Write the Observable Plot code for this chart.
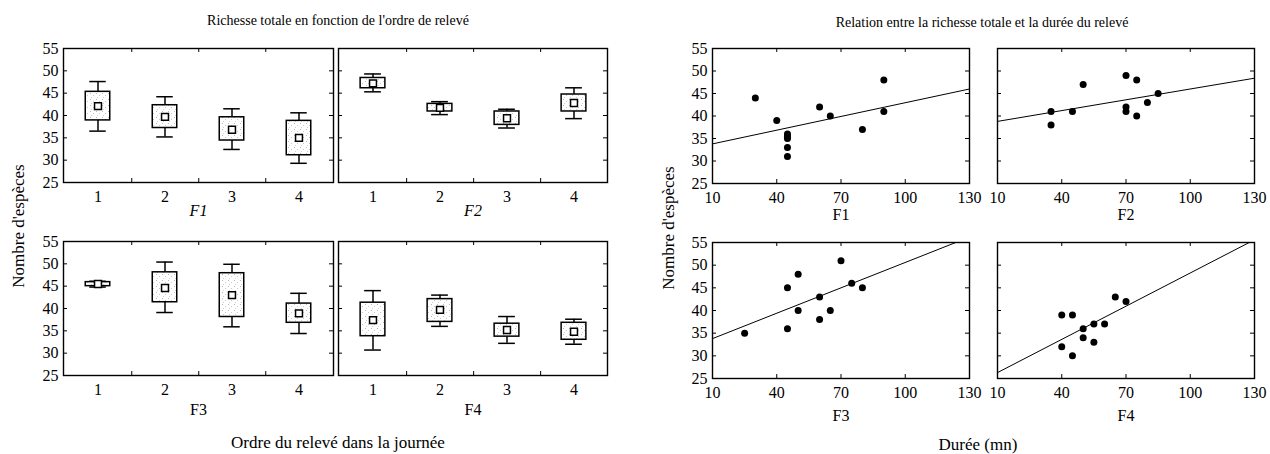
<!DOCTYPE html>
<html><head><meta charset="utf-8">
<script src="https://cdn.jsdelivr.net/npm/d3@7"></script>
<script src="https://cdn.jsdelivr.net/npm/@observablehq/plot@0.6"></script>
<style>
body{margin:0;background:#fff;}
#c{position:relative;width:1270px;height:454px;overflow:hidden;font-family:"Liberation Serif","Times New Roman",serif;color:#000;background:#fff;}
.t{position:absolute;white-space:nowrap;}
.p{position:absolute;}
</style></head><body>
<svg width="0" height="0" style="position:absolute"><defs>
<pattern id="dots" width="6" height="6" patternUnits="userSpaceOnUse">
<rect width="6" height="6" fill="#fff"/>
<rect x="1" y="1" width="1" height="1" fill="#b8b8b8"/>
<rect x="4" y="3" width="1" height="1" fill="#c8c8c8"/>
<rect x="2" y="5" width="1" height="1" fill="#d0d0d0"/>
</pattern></defs></svg>
<div id="c"></div>
<script>
// ---------- data ----------
const facets = ["F1", "F2", "F3", "F4"];
const orders = [1, 2, 3, 4];
const yTicks = [25, 30, 35, 40, 45, 50, 55];
const xTicksDur = [10, 40, 70, 100, 130];

// Box plots (per facet, per order 1..4)
const boxMedian   = [[42.1, 39.7, 36.8, 35.0], [47.2, 41.7, 39.4, 42.8], [45.5, 44.6, 43.0, 38.9], [37.4, 39.7, 35.2, 34.8]];
const boxLow      = [[38.9, 37.2, 34.4, 31.1], [46.1, 40.9, 37.9, 40.9], [45.0, 41.4, 38.1, 36.8], [33.8, 37.0, 33.7, 33.0]];
const boxHigh     = [[45.3, 42.3, 39.6, 38.8], [48.4, 42.6, 40.9, 44.7], [45.9, 48.1, 47.9, 41.1], [41.3, 42.1, 36.6, 36.8]];
const whiskerLow  = [[36.5, 35.2, 32.4, 29.3], [45.3, 40.2, 37.2, 39.3], [44.8, 39.1, 35.9, 34.4], [30.7, 36.0, 32.2, 32.0]];
const whiskerHigh = [[47.6, 44.2, 41.5, 40.6], [49.3, 43.1, 41.4, 46.2], [46.1, 50.4, 49.9, 43.4], [44.0, 43.0, 38.2, 37.6]];

// Scatter (durée en mn, nombre d'espèces)
const dureeF1 = [30, 40, 45, 45, 45, 45, 45, 60, 65, 80, 90, 90];
const especesF1 = [44, 39, 36, 35.5, 35, 33, 31, 42, 40, 37, 48, 41];
const dureeF2 = [35, 35, 45, 50, 70, 70, 70, 75, 75, 80, 85];
const especesF2 = [41, 38, 41, 47, 49, 42, 41, 48, 40, 43, 45];
const dureeF3 = [25, 45, 45, 50, 50, 60, 60, 65, 70, 75, 80];
const especesF3 = [35, 45, 36, 48, 40, 43, 38, 40, 51, 46, 45];
const dureeF4 = [40, 45, 40, 45, 50, 50, 55, 55, 60, 65, 70];
const especesF4 = [39, 39, 32, 30, 36, 34, 37, 33, 37, 43, 42];
const durees = [dureeF1, dureeF2, dureeF3, dureeF4];
const especes = [especesF1, especesF2, especesF3, especesF4];

// Fitted line: value at x = 10 and x = 130
const fitX = [10, 130];
const fitY = [[33.8, 46.0], [38.8, 48.4], [33.8, 56.2], [26.3, 55.6]];

// ---------- layout ----------
const C = document.getElementById("c");
const FONT = "'Liberation Serif','Times New Roman',serif";
function place(node, left, top) {
  node.classList.add("p");
  node.style.left = left + "px";
  node.style.top = top + "px";
  C.appendChild(node);
}
function label(text, x, y, size, rotate = false) {
  const d = document.createElement("div");
  d.className = "t";
  d.textContent = text;
  d.style.left = x + "px";
  d.style.top = y + "px";
  d.style.fontSize = size + "px";
  d.style.lineHeight = "1";
  d.style.transform = "translate(-50%,-50%)" + (rotate ? " rotate(-90deg)" : "");
  C.appendChild(d);
}
const style = {fontFamily: FONT, fontSize: "16px", color: "#000", background: "transparent", overflow: "visible"};

function boxPanel(k, fx, fy, w, h, showY, italic, labelDy) {
  const rows = orders.map((o, i) => ({
    o, med: boxMedian[k][i], lo: boxLow[k][i], hi: boxHigh[k][i],
    wlo: whiskerLow[k][i], whi: whiskerHigh[k][i]
  }));
  const ml = 40, mr = 6, mt = 4, mb = 50;
  const step = w / 4;
  const capInset = (step - 17) / 2, boxInset = (step - 25) / 2;
  const sw = 1.5;
  const svg = Plot.plot({
    width: w + ml + mr, height: h + mt + mb,
    marginLeft: ml, marginRight: mr, marginTop: mt, marginBottom: mb,
    style,
    x: {type: "band", domain: orders, padding: 0, label: null, tickSize: 0, tickPadding: 8},
    y: {domain: [25, 55], ticks: yTicks, label: null, tickSize: 0, tickPadding: 5, axis: showY ? "left" : null},
    marks: [
      Plot.ruleX(rows, {x: "o", y1: "wlo", y2: "lo", strokeWidth: sw}),
      Plot.ruleX(rows, {x: "o", y1: "hi", y2: "whi", strokeWidth: sw}),
      Plot.tickY(rows, {x: "o", y: "wlo", insetLeft: capInset, insetRight: capInset, strokeWidth: sw}),
      Plot.tickY(rows, {x: "o", y: "whi", insetLeft: capInset, insetRight: capInset, strokeWidth: sw}),
      Plot.barY(rows, {x: "o", y1: "lo", y2: "hi", insetLeft: boxInset, insetRight: boxInset, fill: "url(#dots)", stroke: "#000", strokeWidth: sw}),
      Plot.dot(rows, {x: "o", y: "med", symbol: "square", r: 3.9, fill: "#fff", stroke: "#000", strokeWidth: sw}),
      // inward ticks
      Plot.tickY(yTicks.slice(1, -1), {y: d => d, insetRight: w - 4, strokeWidth: 1}),
      Plot.tickY(yTicks.slice(1, -1), {y: d => d, insetLeft: w - 4, strokeWidth: 1}),
      Plot.tickX(orders.slice(0, 3), {x: d => d, dx: step / 2, insetBottom: h - 4, strokeWidth: 1}),
      Plot.tickX(orders.slice(0, 3), {x: d => d, dx: step / 2, insetTop: h - 4, strokeWidth: 1}),
      Plot.frame({stroke: "#000", strokeWidth: 1.4}),
      Plot.text([facets[k]], {text: d => d, frameAnchor: "bottom", dy: labelDy, fontSize: 16, fontStyle: italic ? "italic" : "normal"})
    ]
  });
  place(svg, fx - ml, fy - mt);
}

function scatterPanel(k, fx, fy, w, h, showY, labelDy) {
  const pts = durees[k].map((d, i) => ({d, s: especes[k][i]}));
  const fit = fitX.map((x, i) => ({x, y: fitY[k][i]}));
  const ml = 40, mr = 16, mt = 4, mb = 50;
  const svg = Plot.plot({
    width: w + ml + mr, height: h + mt + mb,
    marginLeft: ml, marginRight: mr, marginTop: mt, marginBottom: mb,
    style,
    x: {domain: [10, 130], ticks: xTicksDur, label: null, tickSize: 0, tickPadding: 8},
    y: {domain: [25, 55], ticks: yTicks, label: null, tickSize: 0, tickPadding: 5, axis: showY ? "left" : null},
    marks: [
      Plot.line(fit, {x: "x", y: "y", stroke: "#000", strokeWidth: 1, clip: true}),
      Plot.dot(pts, {x: "d", y: "s", r: 3.5, fill: "#000", stroke: "none"}),
      Plot.tickY(yTicks.slice(1, -1), {y: d => d, insetRight: w - 4, strokeWidth: 1}),
      Plot.tickY(yTicks.slice(1, -1), {y: d => d, insetLeft: w - 4, strokeWidth: 1}),
      Plot.tickX(xTicksDur.slice(1, -1), {x: d => d, insetBottom: h - 4, strokeWidth: 1}),
      Plot.tickX(xTicksDur.slice(1, -1), {x: d => d, insetTop: h - 4, strokeWidth: 1}),
      Plot.frame({stroke: "#000", strokeWidth: 1.4}),
      Plot.text([facets[k]], {text: d => d, frameAnchor: "bottom", dy: labelDy, fontSize: 16})
    ]
  });
  place(svg, fx - ml, fy - mt);
}

// Left: box plots
boxPanel(0, 63, 48, 270, 134, true, true, 33);
boxPanel(1, 338, 48, 269, 134, false, true, 33);
boxPanel(2, 63, 241, 270, 134, true, false, 39);
boxPanel(3, 338, 241, 269, 134, false, false, 39);

// Right: scatter plots
scatterPanel(0, 712, 48, 257, 135, true, 36);
scatterPanel(1, 997, 48, 257, 135, false, 36);
scatterPanel(2, 712, 242, 257, 136, true, 42);
scatterPanel(3, 997, 242, 257, 136, false, 42);

// Titles
label("Richesse totale en fonction de l'ordre de relevé", 338, 21, 14);
label("Relation entre la richesse totale et la durée du relevé", 982, 23, 14);
label("Ordre du relevé dans la journée", 338, 442, 17);
label("Durée (mn)", 978, 444, 17);
label("Nombre d'espèces", 18, 226, 17, true);
label("Nombre d'espèces", 668, 228, 17, true);
</script>
</body></html>
